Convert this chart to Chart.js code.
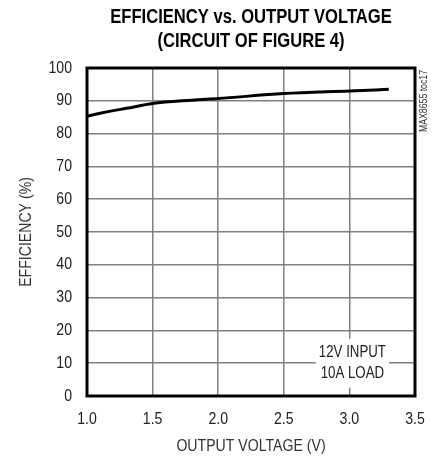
<!DOCTYPE html>
<html>
<head>
<meta charset="utf-8">
<script src="https://cdn.jsdelivr.net/npm/chart.js@4.4.1/dist/chart.umd.min.js"></script>
<style>
  html, body { margin: 0; padding: 0; background: #fff; }
  #wrap { width: 440px; height: 459px; position: relative; }
</style>
</head>
<body>
<div id="wrap"><canvas id="c" width="440" height="459"></canvas></div>
<script>
const titleLines = ["EFFICIENCY vs. OUTPUT VOLTAGE", "(CIRCUIT OF FIGURE 4)"];
const xAxisTitle = "OUTPUT VOLTAGE (V)";
const yAxisTitle = "EFFICIENCY (%)";
const voltage = [1.0, 1.1, 1.2, 1.3, 1.5, 1.8, 2.0, 2.5, 3.0, 3.3];
const efficiency = [85.3, 86.2, 87.0, 87.7, 89.2, 90.2, 90.7, 92.2, 93.0, 93.5];
const noteLines = ["12V INPUT", "10A LOAD"];
const noteAt = [3.0, 10];
const sideLabel = "MAX8655 toc17";

// Condensed-face emulation: the reference uses a condensed Helvetica, which is
// not installed; text set in the "CondEmu" stack is drawn horizontally squeezed.
const SQUEEZE = 0.83;
const FONT = "CondEmu, 'Liberation Sans', Arial, sans-serif";
(function () {
  const proto = CanvasRenderingContext2D.prototype;
  const origFill = proto.fillText, origMeasure = proto.measureText;
  const isCond = ctx => ctx.font.indexOf('CondEmu') >= 0;
  proto.fillText = function (t, x, y, maxW) {
    if (!isCond(this)) return origFill.apply(this, arguments);
    this.save();
    this.translate(x, y);
    this.scale(SQUEEZE, 1);
    if (maxW !== undefined) origFill.call(this, t, 0, 0, maxW / SQUEEZE);
    else origFill.call(this, t, 0, 0);
    this.restore();
  };
  proto.measureText = function (t) {
    const m = origMeasure.call(this, t);
    if (!isCond(this)) return m;
    return {
      width: m.width * SQUEEZE,
      actualBoundingBoxLeft: m.actualBoundingBoxLeft * SQUEEZE,
      actualBoundingBoxRight: m.actualBoundingBoxRight * SQUEEZE,
      actualBoundingBoxAscent: m.actualBoundingBoxAscent,
      actualBoundingBoxDescent: m.actualBoundingBoxDescent,
      fontBoundingBoxAscent: m.fontBoundingBoxAscent,
      fontBoundingBoxDescent: m.fontBoundingBoxDescent
    };
  };
})();

const extras = {
  id: 'extras',
  beforeDatasetsDraw(chart) {
    const ctx = chart.ctx, xs = chart.scales.x, ys = chart.scales.y;
    const cx = xs.getPixelForValue(noteAt[0]) + 3;
    const cy = ys.getPixelForValue(noteAt[1]);
    ctx.save();
    ctx.font = "16px " + FONT;
    let w = 0;
    noteLines.forEach(t => { w = Math.max(w, ctx.measureText(t).width); });
    const lh = 21;
    const boxW = w + 6, boxH = lh * noteLines.length + 7;
    ctx.fillStyle = '#fff';
    ctx.fillRect(cx - boxW / 2, cy - boxH / 2, boxW, boxH);
    ctx.fillStyle = '#222';
    ctx.textAlign = 'center';
    ctx.textBaseline = 'middle';
    noteLines.forEach((t, i) => {
      ctx.fillText(t, cx, cy - lh / 2 + i * lh);
    });
    ctx.restore();
  },
  afterDraw(chart) {
    const ctx = chart.ctx, a = chart.chartArea;
    ctx.save();
    ctx.strokeStyle = '#000';
    ctx.lineWidth = 3;
    ctx.strokeRect(a.left, a.top, a.right - a.left, a.bottom - a.top);
    ctx.translate(a.right + 9, a.top + 2);
    ctx.rotate(-Math.PI / 2);
    ctx.font = "10.5px " + FONT;
    ctx.fillStyle = '#333';
    ctx.textAlign = 'right';
    ctx.textBaseline = 'middle';
    ctx.fillText(sideLabel, 0, 0);
    ctx.restore();
  }
};

new Chart(document.getElementById('c'), {
  type: 'line',
  data: {
    datasets: [{
      data: voltage.map((v, i) => ({ x: v, y: efficiency[i] })),
      borderColor: '#000',
      borderWidth: 3,
      pointRadius: 0,
      cubicInterpolationMode: 'monotone',
      fill: false
    }]
  },
  options: {
    responsive: false,
    animation: false,
    devicePixelRatio: 1,
    layout: { padding: { left: 0, right: 25, top: 0, bottom: 0 } },
    plugins: {
      legend: { display: false },
      tooltip: { enabled: false },
      title: {
        display: true,
        fullSize: false,
        text: titleLines,
        color: '#000',
        font: { family: FONT, size: 20, weight: 'bold', lineHeight: 1.2 },
        padding: { top: 5, bottom: 15 }
      }
    },
    scales: {
      x: {
        type: 'linear',
        min: 1.0, max: 3.5,
        afterFit(s) { s.height = 63; },
        ticks: {
          stepSize: 0.5,
          color: '#222',
          font: { family: FONT, size: 17 },
          padding: 13,
          callback: v => v.toFixed(1),
          maxRotation: 0
        },
        grid: { color: '#808080', lineWidth: 1.5, drawTicks: false },
        border: { display: false },
        title: {
          display: true,
          text: xAxisTitle,
          color: '#333',
          font: { family: FONT, size: 17 },
          padding: { top: 4, bottom: 2 }
        }
      },
      y: {
        min: 0, max: 100,
        afterFit(s) { s.width = 87; },
        ticks: {
          stepSize: 10,
          color: '#222',
          font: { family: FONT, size: 17 },
          padding: 15
        },
        grid: { color: '#808080', lineWidth: 1.5, drawTicks: false },
        border: { display: false },
        title: {
          display: true,
          text: yAxisTitle,
          color: '#333',
          font: { family: FONT, size: 17 },
          padding: { top: 16, bottom: 4 }
        }
      }
    }
  },
  plugins: [extras]
});
</script>
</body>
</html>
